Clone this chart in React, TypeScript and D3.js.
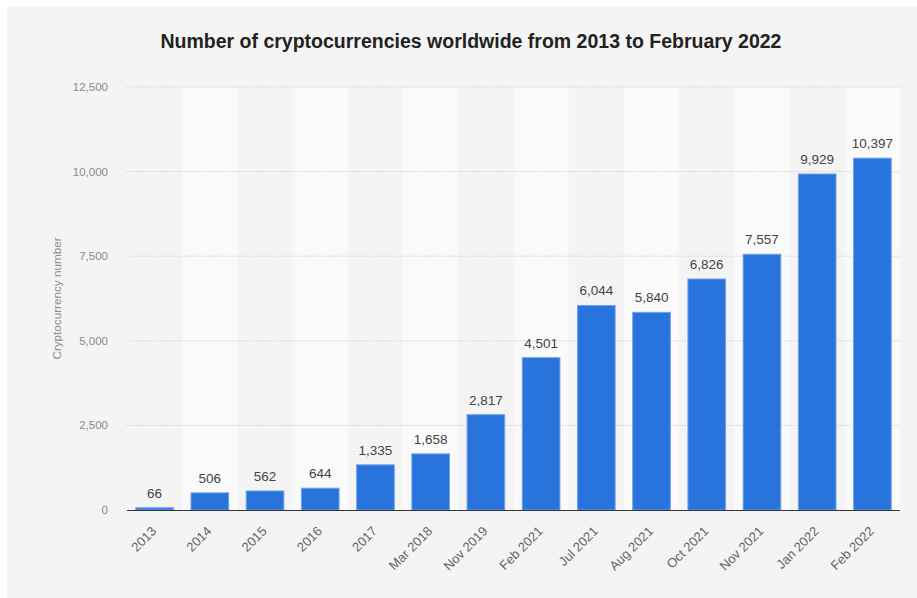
import React from "react";
import * as d3 from "d3";

const categories = ["2013", "2014", "2015", "2016", "2017", "Mar 2018", "Nov 2019", "Feb 2021", "Jul 2021", "Aug 2021", "Oct 2021", "Nov 2021", "Jan 2022", "Feb 2022"];
const values = [66, 506, 562, 644, 1335, 1658, 2817, 4501, 6044, 5840, 6826, 7557, 9929, 10397];
const yTicks = [0, 2500, 5000, 7500, 10000, 12500];
const title = "Number of cryptocurrencies worldwide from 2013 to February 2022";
const yAxisTitle = "Cryptocurrency number";

const W = 917;
const H = 598;
const left = 127;
const right = 900;
const top = 87;
const bottom = 510;
const font = "'Liberation Sans', Arial, Helvetica, sans-serif";

export default function App() {
  const x = d3.scaleBand<string>().domain(categories).range([left, right]).paddingInner(0.3).paddingOuter(0.15);
  const xBand = d3.scaleBand<string>().domain(categories).range([left, right]).padding(0);
  const y = d3.scaleLinear().domain([0, 12500]).range([bottom, top]);
  const fmt = d3.format(",");

  return (
    <svg width={W} height={H} style={{ position: "absolute", left: 0, top: 0 }} fontFamily={font}>
      <rect x={0} y={0} width={W} height={H} fill="#ffffff" />
      <rect x={7} y={7} width={W - 7} height={H - 7} fill="#f4f4f4" />
      {categories.map((c, i) =>
        i % 2 === 1 ? (
          <rect key={"band" + c} x={xBand(c)} y={top} width={xBand.bandwidth()} height={bottom - top} fill="#fafafa" />
        ) : null
      )}
      {yTicks.filter((t) => t > 0).map((t) => (
        <line key={"g" + t} x1={left} x2={right} y1={y(t)} y2={y(t)} stroke="#cfcfcf" strokeWidth={1} strokeDasharray="1.5,1.5" />
      ))}
      {yTicks.map((t) => (
        <text key={"yt" + t} x={108} y={y(t)} dy="0.35em" textAnchor="end" fontSize={11.5} fill="#8a8a8a">
          {fmt(t)}
        </text>
      ))}
      <text transform={`translate(61,${(top + bottom) / 2}) rotate(-90)`} textAnchor="middle" fontSize={11.7} fill="#8a8a8a">
        {yAxisTitle}
      </text>
      {categories.map((c, i) => (
        <rect
          key={"bar" + c}
          x={x(c)! + 0.5}
          y={y(values[i])}
          width={x.bandwidth() - 1}
          height={bottom - y(values[i])}
          fill="#2874dc"
          stroke="#6ea2ea"
          strokeWidth={1}
        />
      ))}
      {categories.map((c, i) => (
        <text key={"v" + c} x={x(c)! + x.bandwidth() / 2} y={y(values[i]) - 10} textAnchor="middle" fontSize={13.5} fill="#444444">
          {fmt(values[i])}
        </text>
      ))}
      <line x1={left} x2={right} y1={bottom + 0.5} y2={bottom + 0.5} stroke="#333333" strokeWidth={1.2} />
      {categories.map((c) => {
        const cx = xBand(c)! + xBand.bandwidth() / 2 + 2.5;
        return (
          <text key={"xl" + c} transform={`translate(${cx},${bottom + 22}) rotate(-45)`} textAnchor="end" fontSize={13} fill="#666666">
            {c}
          </text>
        );
      })}
      <text x={471} y={48} textAnchor="middle" fontSize={19.5} fontWeight="bold" fill="#222222">
        {title}
      </text>
    </svg>
  );
}
